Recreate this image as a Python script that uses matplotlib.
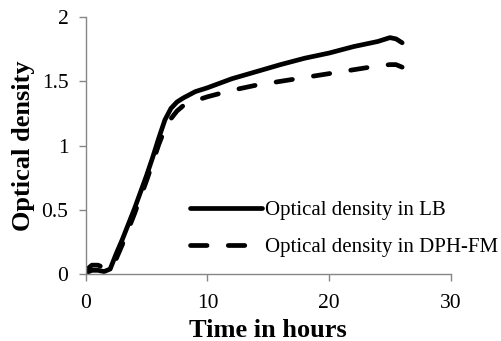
import matplotlib
matplotlib.use('Agg')
import matplotlib.pyplot as plt

# Données
time = [0, 0.5, 1, 1.5, 2, 2.5, 3, 3.5, 4, 4.5, 5, 5.5, 6, 6.5, 7, 7.5, 8, 9, 10,
        12, 14, 16, 18, 20, 22, 24, 25, 25.5, 26]
od_lb = [0.01, 0.03, 0.03, 0.02, 0.04, 0.16, 0.27, 0.39, 0.51, 0.64, 0.77, 0.91, 1.06,
         1.20, 1.29, 1.34, 1.37, 1.42, 1.45, 1.52, 1.575, 1.63, 1.68, 1.72, 1.77, 1.81,
         1.84, 1.83, 1.80]
od_dph = [0.03, 0.07, 0.07, 0.05, 0.05, 0.12, 0.23, 0.35, 0.47, 0.60, 0.73, 0.87, 1.01,
          1.13, 1.21, 1.27, 1.31, 1.35, 1.38, 1.43, 1.47, 1.50, 1.53, 1.56, 1.59, 1.62,
          1.63, 1.63, 1.61]

xticks = [0, 10, 20, 30]
yticks = [0, 0.5, 1, 1.5, 2]
ytick_labels = ['0', '0.5', '1', '1.5', '2']

plt.rcParams['font.family'] = ['Liberation Serif', 'DejaVu Serif']

fig = plt.figure(figsize=(5.02, 3.41), dpi=100)
ax = fig.add_axes([0.171, 0.196, 0.727, 0.754])

ax.plot(time, od_lb, color='black', lw=3.4, solid_capstyle='round',
        solid_joinstyle='round', label='Optical density in LB')
ax.plot(time, od_dph, color='black', lw=3.4, dashes=(3.5, 4.5), dash_capstyle='round',
        label='Optical density in DPH-FM')

ax.set_xlim(0, 30)
ax.set_ylim(0, 2)
ax.set_xticks(xticks)
ax.set_yticks(yticks)
ax.set_yticklabels(ytick_labels)

for s in ['top', 'right']:
    ax.spines[s].set_visible(False)
for s in ['left', 'bottom']:
    ax.spines[s].set_color('#868686')
    ax.spines[s].set_linewidth(1.0)
ax.tick_params(colors='#868686', labelcolor='black', labelsize=15.5, length=5, width=1)
ax.tick_params(axis='x', pad=9.5)
ax.tick_params(axis='y', pad=7.5)

ax.set_xlabel('Time in hours', fontsize=19, fontweight='bold', labelpad=4)
ax.set_ylabel('Optical density', fontsize=19, fontweight='bold', labelpad=5)

ax.legend(loc='center left', bbox_to_anchor=(190 / 502, 1 - 229 / 341),
          bbox_transform=fig.transFigure, frameon=False, fontsize=15,
          handlelength=3.46, handletextpad=0.15, labelspacing=0.82,
          borderpad=0, borderaxespad=0)

fig.savefig('out.png', dpi=100)
